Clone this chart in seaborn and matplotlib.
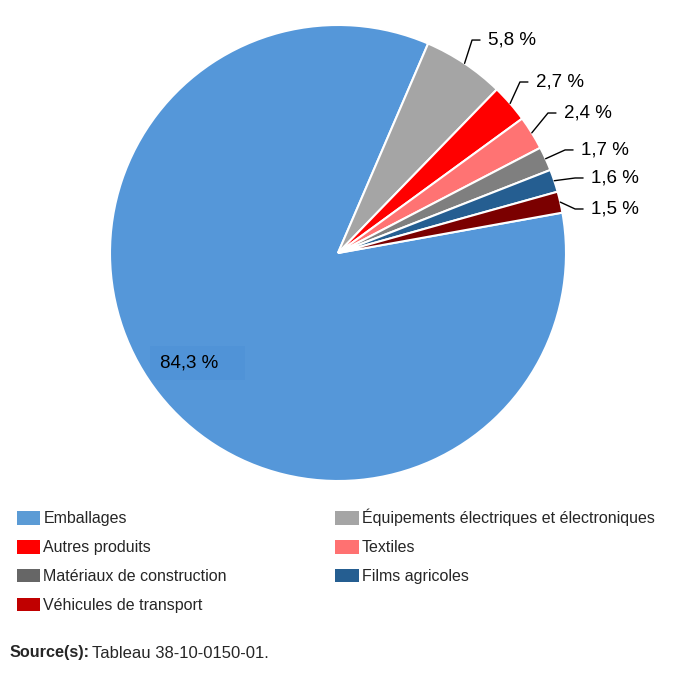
import numpy as np
import matplotlib
matplotlib.use("Agg")
import matplotlib.pyplot as plt
import seaborn as sns
from matplotlib.patches import Patch, Rectangle

sns.set_theme(style="white")
plt.rcParams['font.family'] = ['Liberation Sans', 'DejaVu Sans']

categories = ["Emballages", "Équipements électriques et électroniques", "Autres produits",
              "Textiles", "Matériaux de construction", "Films agricoles", "Véhicules de transport"]
values = [84.3, 5.8, 2.7, 2.4, 1.7, 1.6, 1.5]
labels = ["84,3 %", "5,8 %", "2,7 %", "2,4 %", "1,7 %", "1,6 %", "1,5 %"]
colors = ["#5597d9", "#a5a5a5", "#ff0000", "#ff7373", "#7f7f7f", "#255e91", "#7b0000"]
legend_colors = ["#5b9bd5", "#a5a5a5", "#ff0000", "#ff7171", "#666666", "#255e91", "#c00000"]

fig = plt.figure(figsize=(6.75, 6.75), dpi=100)
R = 228
cx, cy = 338, 253
ax = fig.add_axes([(cx - R) / 675, (675 - cy - R) / 675, 2 * R / 675, 2 * R / 675])
startangle = 10.2
wedges, _ = ax.pie(values, colors=colors, startangle=startangle, counterclock=False,
                   radius=1.0, wedgeprops=dict(edgecolor="white", linewidth=1.5))
ax.set_xlim(-1, 1)
ax.set_ylim(-1, 1)
ax.set_aspect("equal")
ax.axis("off")

# big label with its subtle background box
ax.add_patch(Rectangle((-0.825, -0.557), 0.417, 0.149, facecolor="#5093d7", edgecolor="none", zorder=3))
ax.text(-0.654, -0.482, labels[0], fontsize=13.5, ha="center", va="center", color="#000000", zorder=4)

# outside labels with leader lines
text_pos = [None, (0.658, 0.934), (0.868, 0.75), (0.991, 0.614), (1.066, 0.452),
            (1.110, 0.329), (1.110, 0.193)]
for i in range(1, len(values)):
    w = wedges[i]
    mid = np.deg2rad((w.theta1 + w.theta2) / 2)
    ex, ey = np.cos(mid), np.sin(mid)
    tx, ty = text_pos[i]
    ax.plot([ex, tx - 0.07, tx - 0.035], [ey, ty, ty], color="black", lw=1.0, clip_on=False)
    ax.text(tx, ty, labels[i], fontsize=13.5, ha="left", va="center", color="#000000")

# legend: row-wise order in two columns
order = [0, 2, 4, 6, 1, 3, 5]
handles = [Patch(facecolor=legend_colors[j], edgecolor="none", label=categories[j]) for j in order]
fig.legend(handles=handles, ncol=2, loc="upper left", bbox_to_anchor=(17 / 675, 1 - 509 / 675),
           frameon=False, fontsize=11.5, handlelength=1.45, handleheight=0.95,
           handletextpad=0.2, labelspacing=0.84, columnspacing=6.8, borderpad=0, borderaxespad=0)

fig.text(10 / 675, 1 - 653 / 675, "Source(s):", fontsize=11.7, fontweight="bold", va="center", ha="left")
fig.text(92 / 675, 1 - 653 / 675, "Tableau 38-10-0150-01.", fontsize=12, va="center", ha="left")

fig.savefig("out.png", dpi=100, facecolor="white")
